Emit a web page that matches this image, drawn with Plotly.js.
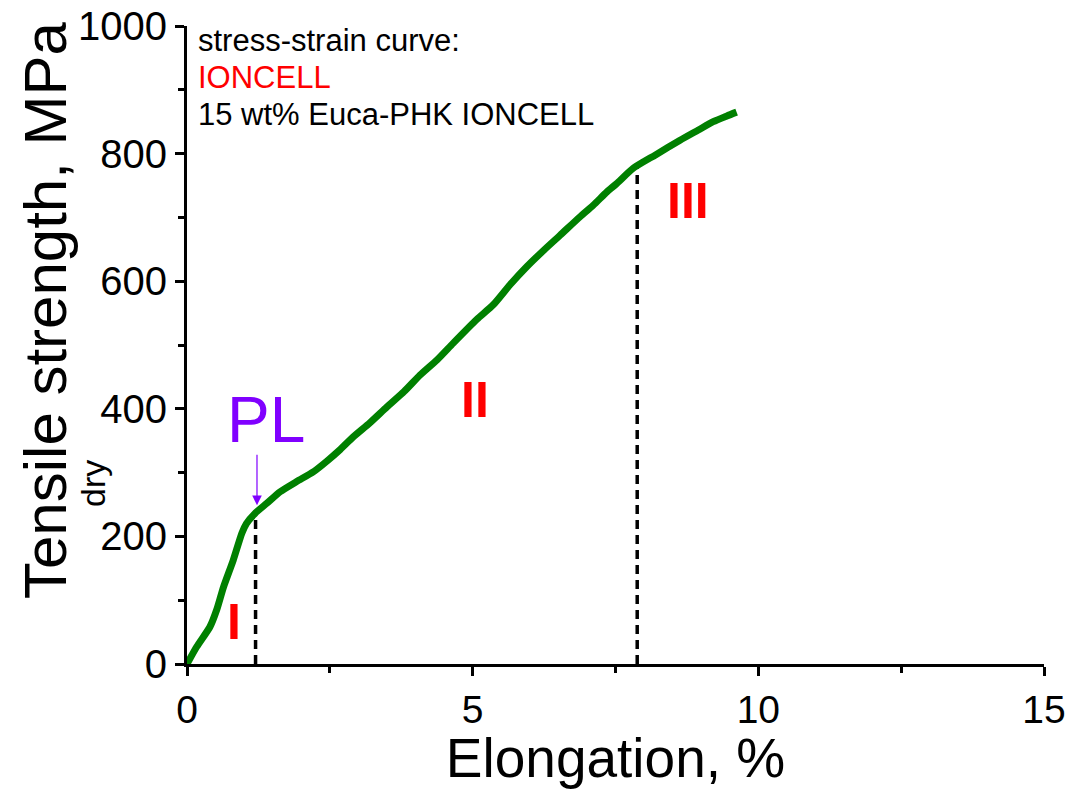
<!DOCTYPE html>
<html>
<head>
<meta charset="utf-8">
<script src="https://cdn.plot.ly/plotly-3.0.1.min.js"></script>
<style>
html,body{margin:0;padding:0;background:#fff;}
#chart{width:1065px;height:789px;}
</style>
</head>
<body>
<div id="chart"></div>
<script>
// Data
const strain = [0, 0.17, 0.40, 0.52, 0.64, 0.81, 0.96, 1.04, 1.19, 1.40, 1.63, 1.92, 2.21, 2.45, 2.68, 2.91, 3.20, 3.50, 3.80, 4.08, 4.38, 4.66, 5.07, 5.36, 5.65, 5.95, 6.25, 6.53, 6.88, 7.11, 7.35, 7.52, 7.81, 8.20, 8.63, 8.95, 9.21, 9.45, 9.62];
const stress = [0, 27, 58, 85, 121, 163, 205, 220, 236, 252, 270, 286, 301, 318, 336, 356, 378, 403, 427, 453, 477, 503, 540, 563, 594, 623, 649, 672, 701, 719, 740, 753, 777, 798, 821, 837, 850, 859, 865];

// Region boundaries (dashed markers)
const plStrain = 1.2, plStress = 241;
const region3Strain = 7.88, region3Stress = 777;

// Text
const legendLines = ["stress-strain curve:", "IONCELL", "15 wt% Euca-PHK IONCELL"];
const legendColors = ["#000000", "#ff0000", "#000000"];
const regionLabels = ["I", "II", "III"];
const regionLabelX = [0.82, 5.04, 8.77];
const regionLabelY = [66, 414, 726];

const xTicks = [0, 5, 10, 15];
const yTicks = [0, 200, 400, 600, 800, 1000];

const FONT = "Liberation Sans, Arial, sans-serif";

const traces = [
  {
    x: [plStrain, plStrain], y: [0, plStress], type: "scatter", mode: "lines",
    line: {color: "#000", width: 3.5, dash: "9px,6px"}, showlegend: false
  },
  {
    x: [region3Strain, region3Strain], y: [0, region3Stress], type: "scatter", mode: "lines",
    line: {color: "#000", width: 3.5, dash: "9px,6px"}, showlegend: false
  },
  {
    x: strain, y: stress, type: "scatter", mode: "lines",
    line: {color: "#008000", width: 7, shape: "spline", smoothing: 0.6},
    hoverinfo: "skip", showlegend: false
  }
];

const annotations = [];
// legend-like text block
const legendYpx = [41, 77, 114];
legendLines.forEach((t, i) => {
  annotations.push({
    xref: "paper", yref: "paper",
    x: (196 - 187) / 857, y: 1 - (legendYpx[i] - 26) / 638,
    xanchor: "left", yanchor: "middle",
    text: t, showarrow: false,
    font: {family: FONT, size: 31, color: legendColors[i]}
  });
});
// region numerals
regionLabels.forEach((t, i) => {
  annotations.push({
    x: regionLabelX[i], y: regionLabelY[i], xref: "x", yref: "y",
    text: "<b>" + t + "</b>", showarrow: false,
    font: {family: FONT, size: 50, color: "#ff0000"}
  });
});
// PL label
annotations.push({
  x: 1.38, y: 382, xref: "x", yref: "y", text: "PL", showarrow: false,
  font: {family: FONT, size: 64, color: "#8000ff"}
});
// PL arrow
annotations.push({
  x: 1.225, y: 249, xref: "x", yref: "y", text: "",
  showarrow: true, ax: 0, ay: -52, axref: "pixel", ayref: "pixel",
  arrowcolor: "#8000ff", arrowwidth: 1.2, arrowhead: 2, arrowsize: 1.6
});
// y axis title
annotations.push({
  xref: "paper", yref: "paper", x: (45 - 187) / 857, y: 1 - (310 - 26) / 638,
  xanchor: "center", yanchor: "middle", textangle: -90,
  text: "Tensile strength, MPa", showarrow: false,
  font: {family: FONT, size: 60, color: "#000"}
});
// "dry" subscript
annotations.push({
  xref: "paper", yref: "paper", x: (93 - 187) / 857, y: 1 - (484 - 26) / 638,
  xanchor: "center", yanchor: "middle", textangle: -90,
  text: "dry", showarrow: false,
  font: {family: FONT, size: 34, color: "#000"}
});

const layout = {
  width: 1065, height: 789,
  margin: {l: 187, r: 21, t: 26, b: 125},
  paper_bgcolor: "#fff", plot_bgcolor: "#fff",
  showlegend: false,
  xaxis: {
    range: [0, 15], tickvals: xTicks, ticktext: xTicks.map(String),
    showgrid: false, zeroline: false,
    showline: true, linecolor: "#000", linewidth: 3,
    ticks: "outside", ticklen: 9, tickwidth: 3, tickcolor: "#000",
    minor: {tickvals: [2.5, 7.5, 12.5], ticks: "outside", ticklen: 6, tickwidth: 3, tickcolor: "#000"},
    tickfont: {family: FONT, size: 39, color: "#000"},
    ticklabeloverflow: "allow",
    automargin: false,
    title: {text: "Elongation, %", font: {family: FONT, size: 55, color: "#000"}, standoff: 2}
  },
  yaxis: {
    range: [0, 1000], tickvals: yTicks, ticktext: yTicks.map(String),
    showgrid: false, zeroline: false,
    showline: true, linecolor: "#000", linewidth: 3,
    ticks: "outside", ticklen: 9, tickwidth: 3, tickcolor: "#000",
    minor: {tickvals: [100, 300, 500, 700, 900], ticks: "outside", ticklen: 6, tickwidth: 3, tickcolor: "#000"},
    tickfont: {family: FONT, size: 40, color: "#000"},
    ticklabeloverflow: "allow",
    automargin: false
  },
  annotations: annotations
};

Plotly.newPlot("chart", traces, layout, {displayModeBar: false, staticPlot: true});
</script>
</body>
</html>
